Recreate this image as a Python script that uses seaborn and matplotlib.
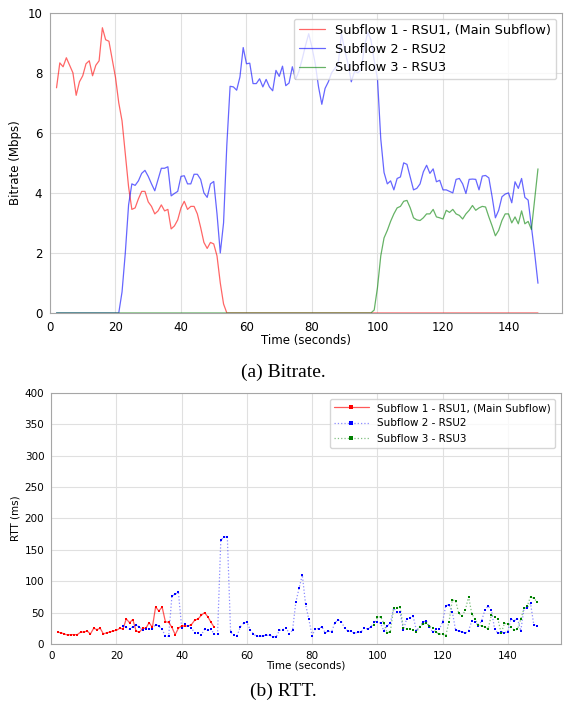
import numpy as np
import pandas as pd
import seaborn as sns
import matplotlib
matplotlib.use("Agg")
import matplotlib.pyplot as plt

# bitrate sampled once per second, t = 2 .. 149
rate_time = np.arange(2, 150)
rate_sf1 = [
    7.5, 8.33, 8.2, 8.5, 8.25, 8.0, 7.25, 7.7, 7.9, 8.3, 8.4, 7.9, 8.25, 8.4, 9.5, 9.1, 9.05, 8.45, 7.85, 7.0,
    6.4, 5.3, 4.2, 3.45, 3.5, 3.8, 4.05, 4.05, 3.7, 3.55, 3.3, 3.4, 3.6, 3.4, 3.45, 2.8, 2.9, 3.1, 3.5, 3.72,
    3.45, 3.55, 3.55, 3.3, 2.85, 2.35, 2.15, 2.35, 2.3, 1.9, 1.0, 0.3, 0.0,
    0, 0, 0, 0, 0, 0, 0, 0, 0, 0, 0, 0, 0, 0, 0, 0, 0, 0, 0, 0,
    0, 0, 0, 0, 0, 0, 0, 0, 0, 0, 0, 0, 0, 0, 0, 0, 0, 0, 0, 0,
    0, 0, 0, 0, 0, 0, 0, 0, 0, 0, 0, 0, 0, 0, 0, 0, 0, 0, 0, 0,
    0, 0, 0, 0, 0, 0, 0, 0, 0, 0, 0, 0, 0, 0, 0, 0, 0, 0, 0, 0,
    0, 0, 0, 0, 0, 0, 0, 0, 0, 0, 0, 0, 0, 0, 0,
]
rate_sf2 = [
    0, 0, 0, 0, 0, 0, 0, 0, 0, 0, 0, 0, 0, 0, 0, 0, 0, 0, 0, 0,
    0.7, 2.0, 3.6, 4.3, 4.25, 4.4, 4.65, 4.75, 4.55, 4.3, 4.07, 4.45, 4.82, 4.82, 4.87, 3.9, 3.98, 4.05, 4.55, 4.57,
    4.3, 4.3, 4.62, 4.62, 4.45, 4.0, 3.85, 4.3, 4.38, 3.3, 2.0, 3.0, 5.6, 7.55, 7.53, 7.42, 7.86, 8.84, 8.3, 8.32,
    7.64, 7.64, 7.8, 7.53, 7.78, 7.53, 7.4, 8.08, 7.88, 8.22, 7.57, 7.66, 8.2, 7.78, 8.05, 8.45, 8.9, 9.3, 8.85, 8.3,
    7.53, 6.95, 7.48, 7.7, 8.0, 8.15, 8.3, 9.3, 8.75, 8.3, 7.7, 8.05, 8.0, 8.1, 8.85, 9.35, 9.1, 8.4, 7.8, 5.8,
    4.68, 4.3, 4.4, 4.1, 4.48, 4.53, 5.0, 4.95, 4.53, 4.1, 4.15, 4.3, 4.7, 4.92, 4.65, 4.8, 4.37, 4.42, 4.1, 4.1,
    4.05, 4.0, 4.45, 4.48, 4.3, 3.98, 4.45, 4.46, 4.45, 4.1, 4.56, 4.58, 4.5, 3.87, 3.17, 3.42, 3.87, 3.96, 4.0, 3.67,
    4.37, 4.15, 4.48, 3.85, 3.76, 2.87, 1.98, 0.99,
]
rate_sf3 = [
    0, 0, 0, 0, 0, 0, 0, 0, 0, 0, 0, 0, 0, 0, 0, 0, 0, 0, 0, 0,
    0, 0, 0, 0, 0, 0, 0, 0, 0, 0, 0, 0, 0, 0, 0, 0, 0, 0, 0, 0,
    0, 0, 0, 0, 0, 0, 0, 0, 0, 0, 0, 0, 0, 0, 0, 0, 0, 0, 0, 0,
    0, 0, 0, 0, 0, 0, 0, 0, 0, 0, 0, 0, 0, 0, 0, 0, 0, 0, 0, 0,
    0, 0, 0, 0, 0, 0, 0, 0, 0, 0, 0, 0, 0, 0, 0, 0, 0,
    0.1, 0.85, 1.9, 2.5, 2.75, 3.05, 3.3, 3.5, 3.55, 3.72, 3.75, 3.5, 3.17, 3.1, 3.08, 3.17, 3.3, 3.3, 3.45, 3.2,
    3.17, 3.13, 3.42, 3.35, 3.45, 3.3, 3.25, 3.13, 3.3, 3.42, 3.58, 3.42, 3.5, 3.55, 3.53, 3.2, 2.9, 2.57, 2.75, 3.08,
    3.3, 3.3, 3.0, 3.2, 2.97, 3.4, 2.97, 3.05, 2.78, 3.78, 4.8,
]

# RTT per subflow (ms)
rtt_time_sf1 = np.arange(2, 51)
rtt_sf1 = [
    18.6, 18, 16, 14.3, 15, 15, 15, 19, 19, 20.7, 16, 25, 23, 25, 16, 18, 19, 21, 21.8, 25,
    24, 40, 34, 39, 21, 18.6, 25, 25, 34, 26.5, 59, 52.5, 59, 35.5, 34.5, 26.5, 15, 25, 29, 28.7,
    28.7, 31, 38, 39.8, 45.6, 50, 43.5, 34.5, 26.5,
]
rtt_time_sf2 = np.arange(22, 150)
rtt_sf2 = [
    29, 26.5, 23.3, 27.6, 29.7, 27.6, 22, 23.4, 24.4, 24.4, 30.8, 28.7, 23.3, 12.7, 12.2, 76.4, 79, 82.3, 25.5, 31.3,
    28.7, 25, 18, 18, 14.3, 23.3, 21.8, 23.3, 15.4, 15.4, 165.6, 169.9, 171, 19, 14.3, 13.3, 27.6, 33, 35, 22.3,
    16, 12.2, 12.2, 13.3, 13.8, 13.8, 11.7, 11.7, 21.8, 22.8, 26, 16.5, 21.8, 66.3, 88.6, 109.9, 63.2, 39.3, 13.3, 24.4,
    24.4, 27.6, 18, 20.2, 19.6, 34, 38.2, 35.6, 25, 20.7, 20.2, 17, 19, 19, 26, 23.9, 27, 34.5, 35.6, 33,
    21.2, 28.7, 32.9, 57.3, 50.4, 50.4, 22.8, 39.8, 41.9, 44, 21.2, 27.6, 35, 37, 27.6, 18.6, 24, 23.4, 34.5, 61,
    62.6, 51.5, 22.3, 20.7, 19.6, 17, 21.2, 37.2, 35.6, 28.7, 37.2, 54, 60.5, 54, 23.4, 17, 18.6, 18, 19.6, 39.8,
    37.2, 40.3, 20.7, 56.8, 57.9, 64.7, 30.8, 29.2,
]
rtt_time_sf3 = np.arange(99, 150)
rtt_sf3 = [
    30, 42.5, 43.5, 33, 18, 19.6, 57, 58, 58.4, 26, 24, 23.4, 21.8, 19, 27.6, 31.8, 33, 28.7, 26, 18.6,
    16, 15.4, 13.3, 35.6, 70, 69, 48.8, 44.6, 54, 75.4, 47.8, 39.3, 30.8, 28.7, 27.6, 24, 46.2, 43.5, 39.3, 17,
    33, 31.8, 26.5, 22.3, 23.4, 39.3, 56.8, 60.5, 75.4, 72.7, 67.4,
]

labels = ["Subflow 1 - RSU1, (Main Subflow)", "Subflow 2 - RSU2", "Subflow 3 - RSU3"]
colors = ["red", "blue", "green"]

sns.set_style("whitegrid", {"grid.color": "0.88", "axes.edgecolor": "0.65",
                            "text.color": "black", "xtick.color": "black",
                            "ytick.color": "black", "axes.labelcolor": "black"})
plt.rcParams["font.family"] = ["DejaVu Sans"]

fig = plt.figure(figsize=(5.66, 7.11), dpi=100)
ax1 = fig.add_axes([0.0883, 0.5598, 0.9047, 0.4223])
ax2 = fig.add_axes([0.0906, 0.0942, 0.9006, 0.3535])

# (a) bitrate
rate = pd.DataFrame({"time": rate_time, labels[0]: rate_sf1, labels[1]: rate_sf2, labels[2]: rate_sf3})
for lab, col in zip(labels, colors):
    sns.lineplot(x="time", y=lab, data=rate, ax=ax1, color=col, alpha=0.6, linewidth=0.9, label=lab)
ax1.set_xlim(0, 156.35)
ax1.set_ylim(0, 10)
ax1.set_xticks(range(0, 141, 20))
ax1.set_yticks(range(0, 11, 2))
ax1.tick_params(labelsize=8.5, pad=2)
ax1.set_xlabel("Time (seconds)", fontsize=8.5, labelpad=0)
ax1.set_ylabel("Bitrate (Mbps)", fontsize=8.5, labelpad=4)
ax1.legend(loc="upper right", fontsize=9.3, frameon=True, borderaxespad=0.45,
           handlelength=2.0, labelspacing=0.45)

# (b) RTT: faint connecting line, small solid square markers
rtt_sets = [(rtt_time_sf1, rtt_sf1, "-", 0.65), (rtt_time_sf2, rtt_sf2, ":", 0.45),
            (rtt_time_sf3, rtt_sf3, ":", 0.5)]
handles = []
for (tt, vv, ls, al), lab, col in zip(rtt_sets, labels, colors):
    sns.lineplot(x=tt, y=vv, ax=ax2, color=col, alpha=al, linewidth=0.9, linestyle=ls)
    sns.scatterplot(x=tt, y=vv, ax=ax2, color=col, marker="s", s=4, linewidth=0, zorder=3)
    h, = ax2.plot([], [], color=matplotlib.colors.to_rgba(col, al), linestyle=ls, linewidth=0.9,
                  marker="s", markersize=2.2, markerfacecolor=col, markeredgewidth=0)
    handles.append(h)
ax2.legend(handles, labels, loc="upper right", fontsize=7.5, frameon=True, borderaxespad=0.6,
           handlelength=3.3, labelspacing=0.5)
ax2.set_xlim(0, 156.35)
ax2.set_ylim(0, 400)
ax2.set_xticks(range(0, 141, 20))
ax2.set_yticks(range(0, 401, 50))
ax2.tick_params(labelsize=7.5, pad=1.5)
ax2.set_xlabel("Time (seconds)", fontsize=7.5, labelpad=0)
ax2.set_ylabel("RTT (ms)", fontsize=7.5, labelpad=3)

fig.text(0.5, 0.476, "(a) Bitrate.", ha="center", va="center", fontsize=14,
         family=["Liberation Serif", "DejaVu Serif"])
fig.text(0.5, 0.028, "(b) RTT.", ha="center", va="center", fontsize=14,
         family=["Liberation Serif", "DejaVu Serif"])

fig.savefig("out.png", dpi=100)
